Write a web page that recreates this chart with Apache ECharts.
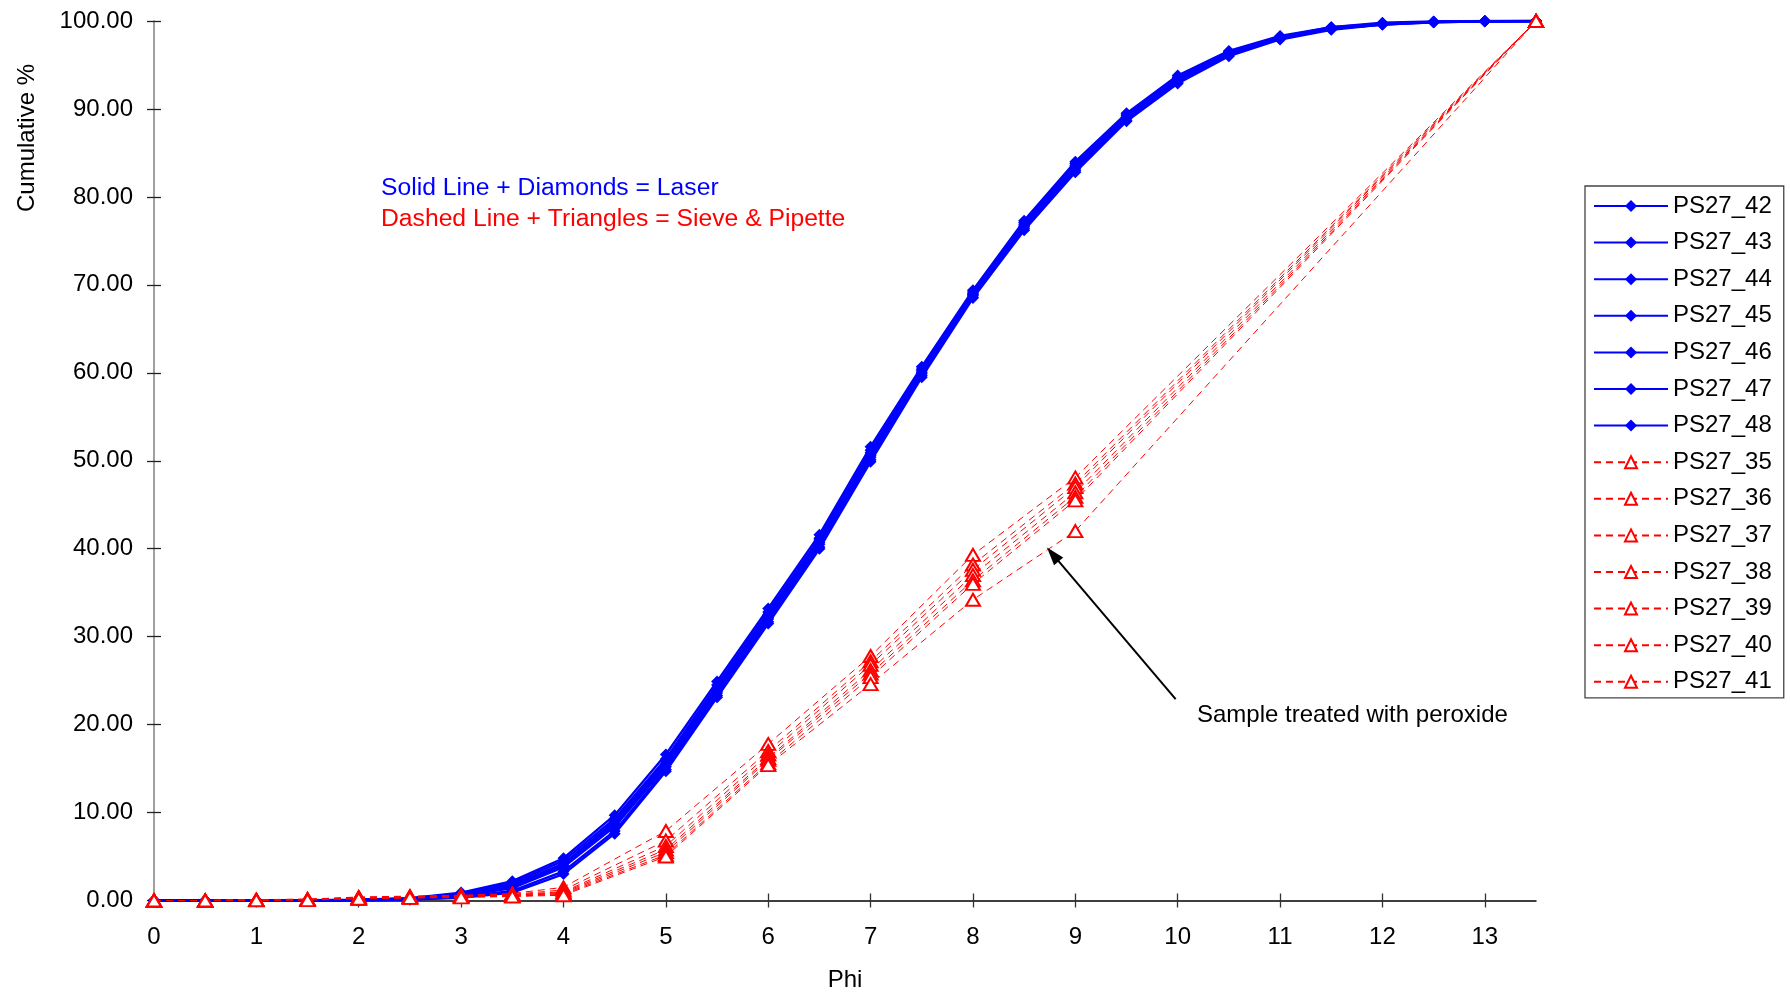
<!DOCTYPE html>
<html>
<head>
<meta charset="utf-8">
<script src="https://cdn.jsdelivr.net/npm/echarts@6/dist/echarts.min.js"></script>
<style>html,body{margin:0;padding:0;background:#fff}#c{width:1790px;height:992px}</style>
</head>
<body>
<div id="c"></div>
<script>
// ---------- DATA ----------
const xTicks = [0,1,2,3,4,5,6,7,8,9,10,11,12,13];
const yTicks = [0,10,20,30,40,50,60,70,80,90,100];
const phiLaser = [0,0.5,1,1.5,2,2.5,3,3.5,4,4.5,5,5.5,6,6.5,7,7.5,8,8.5,9,9.5,10,10.5,11,11.5,12,12.5,13,13.5];
const phiSieve = [0,0.5,1,1.5,2,2.5,3,3.5,4,5,6,7,8,9,13.5];

const laserNames = ['PS27_42','PS27_43','PS27_44','PS27_45','PS27_46','PS27_47','PS27_48'];
const PS27_42 = [0,0,0,0.02,0.08,0.25,0.9,2.2,4.8,9.7,16.6,24.9,33.2,41.6,51.6,60.7,69.4,77.3,84.0,89.5,93.8,96.6,98.3,99.3,99.8,99.95,100,100];
const PS27_43 = [0,0,0,0.02,0.07,0.22,0.8,2.0,4.5,9.3,16.1,24.5,32.8,41.2,51.2,60.4,69.2,77.1,83.8,89.3,93.6,96.5,98.2,99.3,99.7,99.9,100,100];
const PS27_44 = [0,0,0,0.02,0.06,0.2,0.7,1.8,4.2,9.0,15.8,24.1,32.5,41.0,50.9,60.2,69.0,76.9,83.6,89.2,93.5,96.4,98.2,99.2,99.7,99.9,99.98,100];
const PS27_45 = [0,0,0,0.01,0.05,0.18,0.6,1.6,4.0,8.7,15.5,23.8,32.2,40.7,50.6,60.0,68.9,76.7,83.4,89.0,93.3,96.3,98.1,99.2,99.7,99.9,99.98,100];
const PS27_46 = [0,0,0,0.01,0.04,0.15,0.5,1.4,3.8,8.4,15.2,23.6,32.0,40.5,50.4,59.9,68.8,76.6,83.2,88.9,93.2,96.2,98.0,99.1,99.6,99.9,99.97,100];
const PS27_47 = [0,0,0,0.01,0.03,0.12,0.4,1.1,3.3,7.9,14.9,23.3,31.7,40.2,50.1,59.7,68.6,76.4,83.0,88.7,93.0,96.1,98.0,99.1,99.6,99.85,99.97,100];
const PS27_48 = [0,0,0,0.01,0.02,0.1,0.3,0.9,3.0,7.6,14.7,23.1,31.5,40.0,49.9,59.5,68.5,76.2,82.8,88.6,92.9,96.0,97.9,99.0,99.6,99.85,99.97,100];

const sieveNames = ['PS27_35','PS27_36','PS27_37','PS27_38','PS27_39','PS27_40','PS27_41'];
const PS27_35 = [0,0,0.1,0.15,0.4,0.5,0.6,0.8,1.5,7.9,17.8,27.8,39.3,48.1,100];
const PS27_36 = [0,0,0.08,0.15,0.35,0.45,0.55,0.7,1.2,6.8,17.0,27.2,38.2,47.4,100];
const PS27_37 = [0,0,0.08,0.12,0.3,0.4,0.5,0.65,1.0,6.2,16.6,26.8,37.6,47.0,100];
const PS27_38 = [0,0,0.05,0.1,0.3,0.4,0.5,0.6,0.9,5.8,16.2,26.2,37.0,46.4,100];
const PS27_39 = [0,0,0.05,0.1,0.25,0.35,0.45,0.55,0.8,5.5,16.0,25.8,36.4,45.9,100];
const PS27_40 = [0,0,0.04,0.08,0.2,0.3,0.4,0.5,0.7,5.2,15.6,25.4,36.0,45.5,100];
const PS27_41 = [0,0,0.03,0.05,0.2,0.3,0.35,0.45,0.6,5.0,15.4,24.6,34.2,42.0,100];

const laserValues = [PS27_42,PS27_43,PS27_44,PS27_45,PS27_46,PS27_47,PS27_48];
const sieveValues = [PS27_35,PS27_36,PS27_37,PS27_38,PS27_39,PS27_40,PS27_41];

// annotation arrow (data coordinates): tail -> head
const arrowTail = [9.98, 22.9];
const arrowHead = [8.78, 39.35];

// ---------- CHART ----------
const FONT = "'Liberation Sans', Arial, sans-serif";
const chart = echarts.init(document.getElementById('c'), null, {renderer: 'canvas'});

const series = [];
laserNames.forEach((n, i) => {
  series.push({
    name: n, type: 'line', xAxisIndex: 0, yAxisIndex: 0,
    data: phiLaser.map((x, k) => [x, laserValues[i][k]]),
    symbol: 'diamond', symbolSize: 12,
    lineStyle: {color: '#0000ff', width: 2.4},
    itemStyle: {color: '#0000ff'},
    animation: false, z: 2
  });
});
sieveNames.forEach((n, i) => {
  const s = {
    name: n, type: 'line', xAxisIndex: 0, yAxisIndex: 0,
    data: phiSieve.map((x, k) => [x, sieveValues[i][k]]),
    symbol: 'emptyTriangle', symbolSize: [14, 12],
    lineStyle: {color: '#ff0000', width: 1, type: [7, 5]},
    itemStyle: {color: '#ff0000', borderColor: '#ff0000', borderWidth: 2.4},
    animation: false, z: 3
  };
  if (i === sieveNames.length - 1) {
    s.markLine = {
      silent: true, animation: false,
      symbol: ['none', 'triangle'], symbolSize: [12, 18],
      label: {show: false},
      lineStyle: {color: '#000', width: 2, type: 'solid'},
      data: [[{coord: arrowTail}, {coord: arrowHead}]]
    };
  }
  series.push(s);
});

const option = {
  backgroundColor: '#fff',
  animation: false,
  textStyle: {fontFamily: FONT},
  grid: {left: 154, right: 254, top: 21, bottom: 91.5, containLabel: false, outerBoundsMode: 'none'},
  xAxis: [{
    type: 'value', min: 0, max: 13.5, interval: 1,
    name: 'Phi', nameLocation: 'middle', nameGap: 68,
    nameTextStyle: {fontSize: 24, color: '#000', fontFamily: FONT},
    axisLine: {show: true, lineStyle: {color: '#000', width: 1.5}},
    axisTick: {show: true, inside: false, length: 7, lineStyle: {color: '#333', width: 1.3}, customValues: xTicks},
    axisLabel: {fontSize: 24, color: '#000', margin: 25, fontFamily: FONT, customValues: xTicks},
    splitLine: {show: false}
  }, {
    type: 'value', min: 0, max: 13.5, interval: 1, position: 'bottom',
    axisLine: {show: false},
    axisTick: {show: true, inside: true, length: 7, lineStyle: {color: '#333', width: 1.3}, customValues: xTicks},
    axisLabel: {show: false},
    splitLine: {show: false}
  }],
  yAxis: [{
    type: 'value', min: 0, max: 100, interval: 10,
    axisLine: {show: true, lineStyle: {color: '#808080', width: 1.5}},
    axisTick: {show: true, inside: false, length: 7, lineStyle: {color: '#222', width: 1.3}, customValues: yTicks},
    axisLabel: {fontSize: 24, color: '#000', margin: 21, fontFamily: FONT,
      customValues: yTicks, formatter: v => v.toFixed(2)},
    splitLine: {show: false}
  }, {
    type: 'value', min: 0, max: 100, interval: 10, position: 'left',
    axisLine: {show: false},
    axisTick: {show: true, inside: true, length: 7, lineStyle: {color: '#222', width: 1.3}, customValues: yTicks},
    axisLabel: {show: false},
    splitLine: {show: false}
  }],
  legend: {
    orient: 'vertical', left: 1585, top: 186,
    padding: [8, 12, 4, 8],
    itemWidth: 74, itemHeight: 15, itemGap: 12.6,
    borderColor: '#444', borderWidth: 1.3,
    textStyle: {fontSize: 24, color: '#000', lineHeight: 24, fontFamily: FONT},
    data: laserNames.concat(sieveNames)
  },
  graphic: [
    {type: 'text', x: 27, y: 138, rotation: Math.PI / 2,
      style: {text: 'Cumulative %', fontSize: 24, fontFamily: FONT, fill: '#000', align: 'center', verticalAlign: 'middle'}},
    {type: 'text', x: 381, y: 188,
      style: {text: 'Solid Line + Diamonds = Laser', fontSize: 24.7, fontFamily: FONT, fill: '#0000ff', align: 'left', verticalAlign: 'middle'}},
    {type: 'text', x: 381, y: 219,
      style: {text: 'Dashed Line + Triangles = Sieve & Pipette', fontSize: 24.7, fontFamily: FONT, fill: '#ff0000', align: 'left', verticalAlign: 'middle'}},
    {type: 'text', x: 1197, y: 715,
      style: {text: 'Sample treated with peroxide', fontSize: 24, fontFamily: FONT, fill: '#000', align: 'left', verticalAlign: 'middle'}}
  ],
  series: series
};
chart.setOption(option);
</script>
</body>
</html>
